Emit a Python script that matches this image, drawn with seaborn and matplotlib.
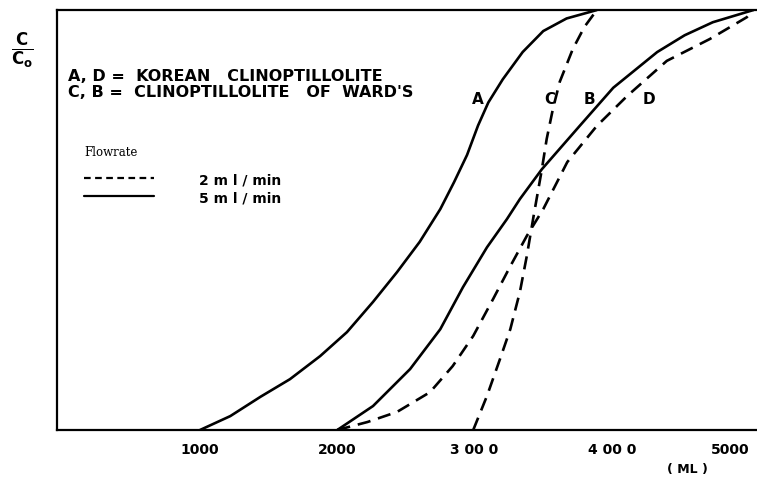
import matplotlib
matplotlib.use('Agg')
import matplotlib.pyplot as plt
from matplotlib.lines import Line2D
import seaborn as sns
import pandas as pd

# breakthrough curves (volume in ML, C/Co)
a_x = [1000, 1220, 1440, 1655, 1875, 2070, 2260, 2435, 2600, 2750, 2850, 2945, 3025, 3100, 3205, 3350, 3500, 3670, 3890]
a_y = [0, 0.033, 0.079, 0.121, 0.176, 0.233, 0.305, 0.376, 0.448, 0.526, 0.59, 0.655, 0.725, 0.78, 0.835, 0.90, 0.95, 0.98, 1.0]

b_x = [2000, 2260, 2530, 2750, 2915, 3090, 3235, 3330, 3490, 3765, 4010, 4330, 4530, 4735, 5030]
b_y = [0, 0.057, 0.145, 0.240, 0.340, 0.435, 0.502, 0.550, 0.621, 0.724, 0.815, 0.900, 0.940, 0.971, 1.0]

c_x = [2990, 3090, 3185, 3260, 3330, 3380, 3430, 3490, 3525, 3570, 3620, 3715, 3800, 3890]
c_y = [0, 0.081, 0.169, 0.240, 0.329, 0.414, 0.510, 0.621, 0.693, 0.764, 0.829, 0.907, 0.96, 1.0]

d_x = [2000, 2220, 2435, 2675, 2840, 2990, 3135, 3260, 3380, 3500, 3675, 3890, 4110, 4400, 4713, 4983, 5030]
d_y = [0, 0.019, 0.043, 0.090, 0.152, 0.224, 0.312, 0.390, 0.462, 0.526, 0.638, 0.724, 0.795, 0.879, 0.931, 0.983, 1.0]

# A, B = 5 ml/min (solid), C, D = 2 ml/min (dashed)
curve_names = ['A', 'B', 'C', 'D']
curve_flow = ['5 m l / min', '5 m l / min', '2 m l / min', '2 m l / min']
curve_label_x = [3020, 3835, 3550, 4270]
curve_label_y = 0.79

x_ticks = [1000, 2000, 3000, 4000, 5000]
x_tick_labels = ['1000', '2000', '3 00 0', '4 00 0', '5000']

sns.set_style('white')
plt.rcParams['font.family'] = ['DejaVu Sans']
plt.rcParams['text.color'] = 'black'
plt.rcParams['xtick.color'] = 'black'

frames = []
for name, xs, ys, flow in zip(curve_names, [a_x, b_x, c_x, d_x], [a_y, b_y, c_y, d_y], curve_flow):
    frames.append(pd.DataFrame({'vol': xs, 'cc0': ys, 'curve': name, 'flow': flow}))
df = pd.concat(frames, ignore_index=True)

fig = plt.figure(figsize=(7.57, 4.81), dpi=100)
ax = fig.add_axes([0.0753, 0.104, 0.9247, 0.873])

for name in curve_names:
    sub = df[df['curve'] == name]
    ls = '-' if sub['flow'].iloc[0].startswith('5') else (0, (5, 3))
    sns.lineplot(x='vol', y='cc0', data=sub, ax=ax, color='black', lw=1.9,
                 linestyle=ls, sort=False, estimator=None)

ax.set_xlim(-42, 5057)
ax.set_ylim(0, 1.0)
ax.set_xticks(x_ticks)
ax.set_xticklabels(x_tick_labels, fontsize=10, fontweight='bold')
ax.get_xticklabels()[-1].set_horizontalalignment('right')
ax.set_yticks([])
ax.tick_params(axis='x', length=0, pad=9)
ax.set_xlabel('')
ax.set_ylabel('')
for s in ['left', 'top', 'bottom']:
    ax.spines[s].set_color('black')
    ax.spines[s].set_linewidth(1.6)
ax.spines['right'].set_visible(False)

# curve letters
for name, lx in zip(curve_names, curve_label_x):
    ax.text(lx, curve_label_y, name, fontsize=11, fontweight='bold', ha='center', va='center')

# description lines
ax.text(0.016, 0.843, 'A, D =  KOREAN   CLINOPTILLOLITE', transform=ax.transAxes,
        fontsize=11.5, fontweight='bold', va='center')
ax.text(0.016, 0.806, "C, B =  CLINOPTILLOLITE   OF  WARD'S", transform=ax.transAxes,
        fontsize=11.5, fontweight='bold', va='center')

# flowrate legend
handles = [Line2D([], [], color='black', lw=1.6, linestyle=(0, (3, 2))),
           Line2D([], [], color='black', lw=1.6, linestyle='-')]
leg = ax.legend(handles, ['2 m l / min', '5 m l / min'], loc='upper left',
                bbox_to_anchor=(0.021, 0.685), frameon=False, handlelength=5.0,
                handletextpad=3.3, labelspacing=0.3, title='Flowrate',
                alignment='left', prop={'weight': 'bold', 'size': 10},
                title_fontproperties={'family': 'DejaVu Serif', 'size': 8.5})
leg.get_title().set_position((0, 10))

# C/Co label and unit
fig.text(0.030, 0.895, r'$\mathbf{\frac{C}{C_o}}$', fontsize=17, ha='center', va='center')
fig.text(0.908, 0.023, '( ML )', fontsize=9, fontweight='bold', ha='center', va='center')

plt.savefig('out.png', dpi=100)
